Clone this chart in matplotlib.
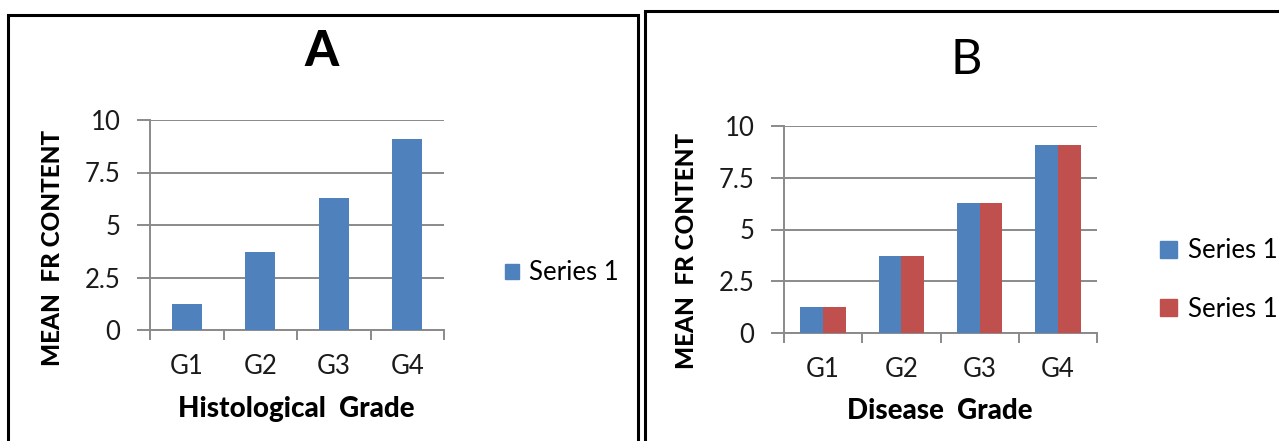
import matplotlib
matplotlib.use("Agg")
import matplotlib.pyplot as plt
from matplotlib.patches import Rectangle, Patch
import numpy as np

categories = ["G1", "G2", "G3", "G4"]
values_a = [1.25, 3.7, 6.3, 9.1]
values_b1 = [1.25, 3.7, 6.3, 9.1]
values_b2 = [1.25, 3.7, 6.3, 9.1]
yticks = [0, 2.5, 5, 7.5, 10]
ytick_labels = ["0", "2.5", "5", "7.5", "10"]
series_names = ["Series 1", "Series 1"]

BLUE = "#4F81BD"
RED = "#C0504D"
GRID = "#8a8a8a"
FONT = "Lato"
TXT = "#1a1a1a"

W, H = 1279, 441
fig = plt.figure(figsize=(W / 100, H / 100), dpi=100)
fig.patch.set_facecolor("white")


def fx(px):
    return px / W


def fy(py):
    return 1 - py / H


def make_axes(left, right, top, bottom):
    ax = fig.add_axes([fx(left), fy(bottom), fx(right) - fx(left), fy(top) - fy(bottom)])
    ax.set_xlim(-0.5, len(categories) - 0.5)
    ax.set_ylim(0, 10)
    ax.set_yticks(yticks)
    ax.set_yticklabels(ytick_labels, fontsize=18.5, family=FONT, color=TXT)
    ax.yaxis.grid(True, color=GRID, linewidth=1.4)
    ax.set_axisbelow(True)
    ax.tick_params(axis="y", length=9.3, width=1.4, color=GRID, pad=12)
    x = np.arange(len(categories))
    ax.set_xticks(x)
    ax.set_xticklabels(categories, fontsize=18.5, family=FONT, color=TXT)
    ax.set_xticks(np.arange(len(categories) + 1) - 0.5, minor=True)
    ax.tick_params(axis="x", which="major", length=0, pad=17)
    ax.tick_params(axis="x", which="minor", length=7.5, width=1.4, color=GRID)
    for s in ["top", "right"]:
        ax.spines[s].set_visible(False)
    for s in ["left", "bottom"]:
        ax.spines[s].set_color(GRID)
        ax.spines[s].set_linewidth(1.4)
    ax.spines["left"].set_bounds(0, 10)
    return ax, x


# Panel borders
fig.patches.append(Rectangle((fx(8), fy(460)), fx(638) - fx(8), fy(15) - fy(460),
                             transform=fig.transFigure, fill=False, edgecolor="black",
                             linewidth=2.2))
fig.patches.append(Rectangle((fx(645), fy(460)), fx(1300) - fx(645), fy(11) - fy(460),
                             transform=fig.transFigure, fill=False, edgecolor="black",
                             linewidth=2.2))

# Panel A
axA, x = make_axes(150, 444, 120, 330)
axA.bar(x, values_a, width=0.41, color=BLUE, label=series_names[0], zorder=3)
fig.text(fx(322), fy(52), "A", fontsize=35, fontweight="black", family=FONT,
         ha="center", va="center")
fig.text(fx(53), fy(248), "MEAN  FR CONTENT", fontsize=17.5, fontweight="black",
         family=FONT, rotation=90, ha="center", va="center")
fig.text(fx(296), fy(409), "Histological  Grade", fontsize=20, fontweight="black",
         family=FONT, ha="center", va="center")
fig.legend(handles=[Patch(color=BLUE, label=series_names[0])], loc="center left",
           bbox_to_anchor=(fx(492), fy(273)), frameon=False, prop={"family": FONT, "size": 18.5},
           handlelength=0.55, handleheight=0.55, handletextpad=0.4, borderpad=0)

# Panel B
axB, x = make_axes(784, 1097, 126, 333)
bw = 0.29
axB.bar(x - bw / 2, values_b1, width=bw, color=BLUE, label=series_names[0], zorder=3)
axB.bar(x + bw / 2, values_b2, width=bw, color=RED, label=series_names[1], zorder=3)
fig.text(fx(966), fy(60), "B", fontsize=35, family=FONT, ha="center", va="center")
fig.text(fx(686), fy(251), "MEAN  FR CONTENT", fontsize=17.5, fontweight="black",
         family=FONT, rotation=90, ha="center", va="center")
fig.text(fx(940), fy(411), "Disease  Grade", fontsize=20, fontweight="black",
         family=FONT, ha="center", va="center")
fig.legend(handles=[Patch(color=BLUE, label=series_names[0]),
                    Patch(color=RED, label=series_names[1])], loc="center left",
           bbox_to_anchor=(fx(1147), fy(280)), frameon=False, prop={"family": FONT, "size": 18.5},
           handlelength=0.65, handleheight=0.65, handletextpad=0.45, labelspacing=1.3, borderpad=0)

fig.savefig("out.png", dpi=100)
